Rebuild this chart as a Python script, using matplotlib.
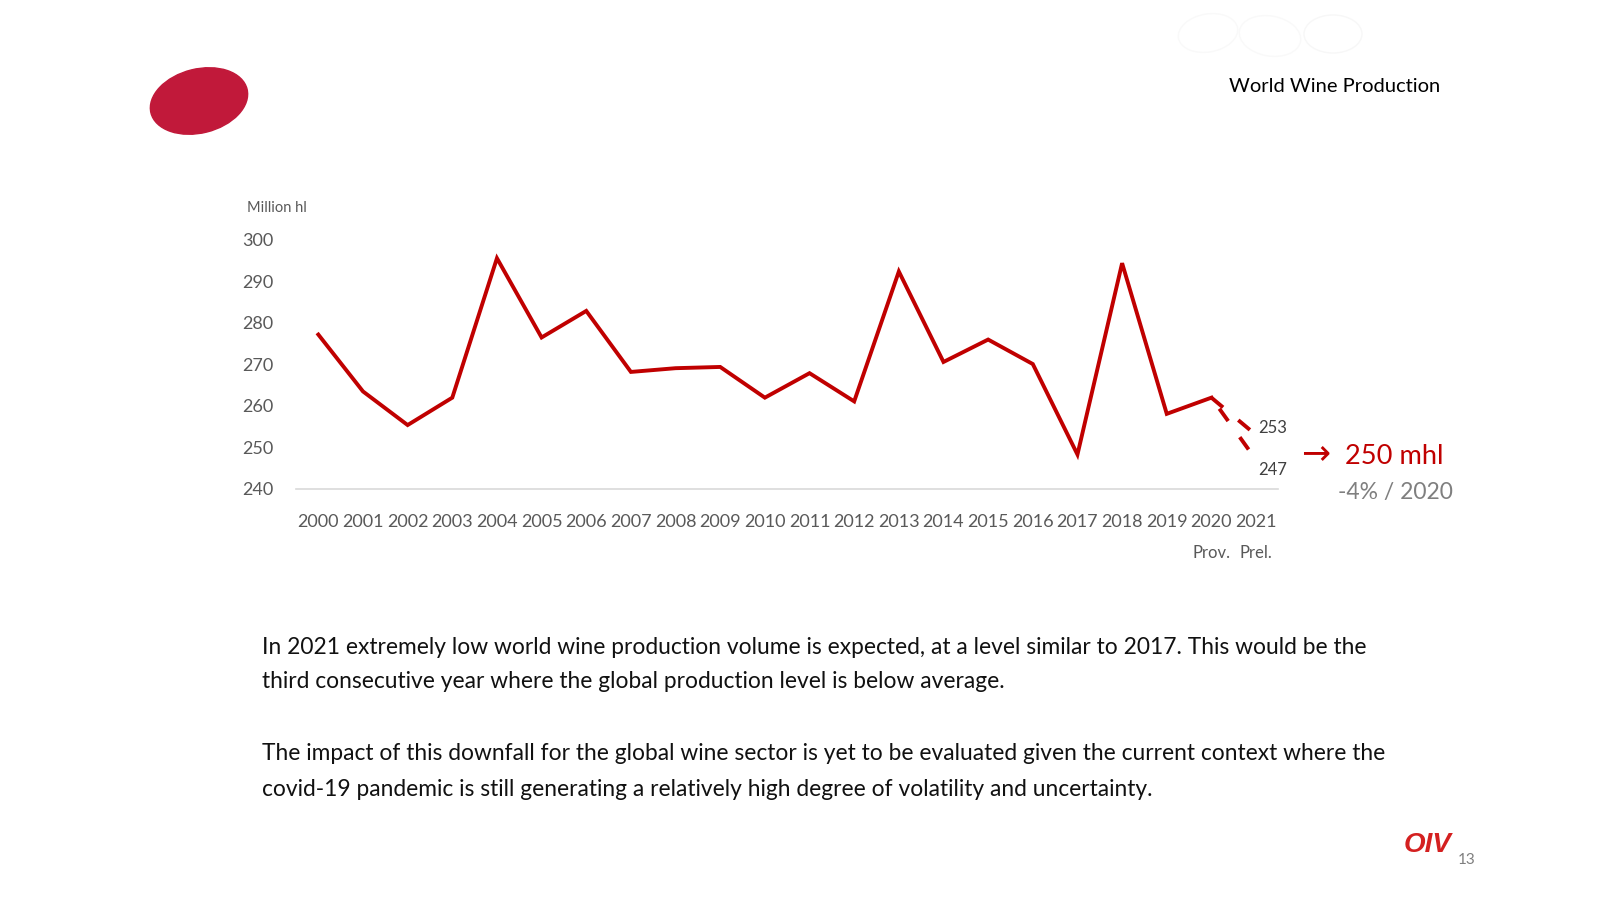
import matplotlib
matplotlib.use('Agg')
import matplotlib.pyplot as plt
from matplotlib.patches import Ellipse

plt.rcParams['font.family'] = ['Lato', 'DejaVu Sans']

# data (million hl)
years = ['2000', '2001', '2002', '2003', '2004', '2005', '2006', '2007', '2008', '2009', '2010',
         '2011', '2012', '2013', '2014', '2015', '2016', '2017', '2018', '2019', '2020', '2021']
production = [277.2, 263.5, 255.4, 262.0, 295.6, 276.5, 282.9, 268.2, 269.1, 269.4, 262.0,
              267.9, 261.1, 292.4, 270.6, 276.0, 270.1, 248.3, 294.4, 258.1, 262.0]
forecast_high = 253
forecast_low = 247
y_ticks = [240, 250, 260, 270, 280, 290, 300]

red = '#C00000'
gray = '#595959'

fig = plt.figure(figsize=(16, 9), dpi=100)
fig.patch.set_facecolor('white')

def fy(px):
    return 1 - px / 900

# logo ellipse top left + very faint watermark top right
logo_ax = fig.add_axes([0, 0, 1, 1], zorder=0)
logo_ax.set_xlim(0, 1600)
logo_ax.set_ylim(900, 0)
logo_ax.axis('off')
logo_ax.add_patch(Ellipse((199, 101), 99, 64, angle=-14, color='#C1193A'))
logo_ax.add_patch(Ellipse((1208, 33), 60, 38, angle=-10, fill=False, ec='#F9F9F9', lw=1))
logo_ax.add_patch(Ellipse((1333, 34), 58, 38, fill=False, ec='#F7F7F7', lw=1))
logo_ax.add_patch(Ellipse((1270, 36), 62, 40, angle=10, fill=False, ec='#F9F9F9', lw=1))

# chart
ax = fig.add_axes([0.185, 0.4567, 0.614, 0.2767], zorder=1)
ax.patch.set_alpha(0)
x = list(range(len(production)))
ax.plot(x, production, color=red, lw=2.8, solid_joinstyle='miter', clip_on=False)
ax.plot([20, 21], [production[-1], forecast_high], color=red, lw=2.8,
        ls=(0, (3.9, 5.1)), dash_capstyle='butt', clip_on=False)
ax.plot([20, 21], [production[-1], forecast_low], color=red, lw=2.8,
        ls=(5.5, (3.9, 5.1)), dash_capstyle='butt', clip_on=False)

ax.set_xlim(-0.5, 21.5)
ax.set_ylim(240, 300)
ax.set_yticks(y_ticks)
ax.set_yticklabels([str(v) for v in y_ticks], fontsize=13, color=gray)
ax.set_xticks(x + [21])
ax.set_xticklabels(years, fontsize=13, color=gray)
ax.tick_params(axis='y', length=0, pad=16)
ax.tick_params(axis='x', length=0, pad=18)
for s in ['top', 'right', 'left']:
    ax.spines[s].set_visible(False)
ax.spines['bottom'].set_color('#D9D9D9')
ax.spines['bottom'].set_linewidth(1.2)

trans = ax.get_xaxis_transform()
ax.text(20, -0.258, 'Prov.', transform=trans, ha='center', va='center', fontsize=12, color=gray)
ax.text(21, -0.258, 'Prel.', transform=trans, ha='center', va='center', fontsize=12, color=gray)
ax.text(21.05, forecast_high + 1.7, str(forecast_high), ha='left', va='center', fontsize=12, color='#404040')
ax.text(21.05, forecast_low - 2.4, str(forecast_low), ha='left', va='center', fontsize=12, color='#404040')

fig.text(247 / 1600, fy(208), 'Million hl', fontsize=10.5, color=gray, ha='left', va='center')

# right side annotation
fig.text(1301 / 1600, fy(453), '→', fontsize=25, color=red, ha='left', va='center',
         family=['DejaVu Sans'])
fig.text(1345 / 1600, fy(456), '250 mhl', fontsize=19.6, color=red, ha='left', va='center')
fig.text(1338 / 1600, fy(493), '-4% / 2020', fontsize=16.5, color='#7F7F7F', ha='left', va='center')

# header
fig.text(1440 / 1600, fy(87), 'World Wine Production', fontsize=14.5, color='black', ha='right', va='center')

# body text
body = [
    (647, 'In 2021 extremely low world wine production volume is expected, at a level similar to 2017. This would be the'),
    (682, 'third consecutive year where the global production level is below average.'),
    (754, 'The impact of this downfall for the global wine sector is yet to be evaluated given the current context where the'),
    (789, 'covid-19 pandemic is still generating a relatively high degree of volatility and uncertainty.'),
]
for ypx, line in body:
    fig.text(262 / 1600, fy(ypx), line, fontsize=16.4, color='#111111', ha='left', va='center')

# footer
fig.text(1404 / 1600, fy(845), 'OIV', fontsize=20, color='#D42020', fontweight='bold', fontstyle='italic',
         ha='left', va='center', family=['Liberation Sans', 'DejaVu Sans'])
fig.text(1467 / 1600, fy(860), '13', fontsize=11, color='#7F7F7F', ha='center', va='center')

fig.savefig('out.png', dpi=100, facecolor='white')
